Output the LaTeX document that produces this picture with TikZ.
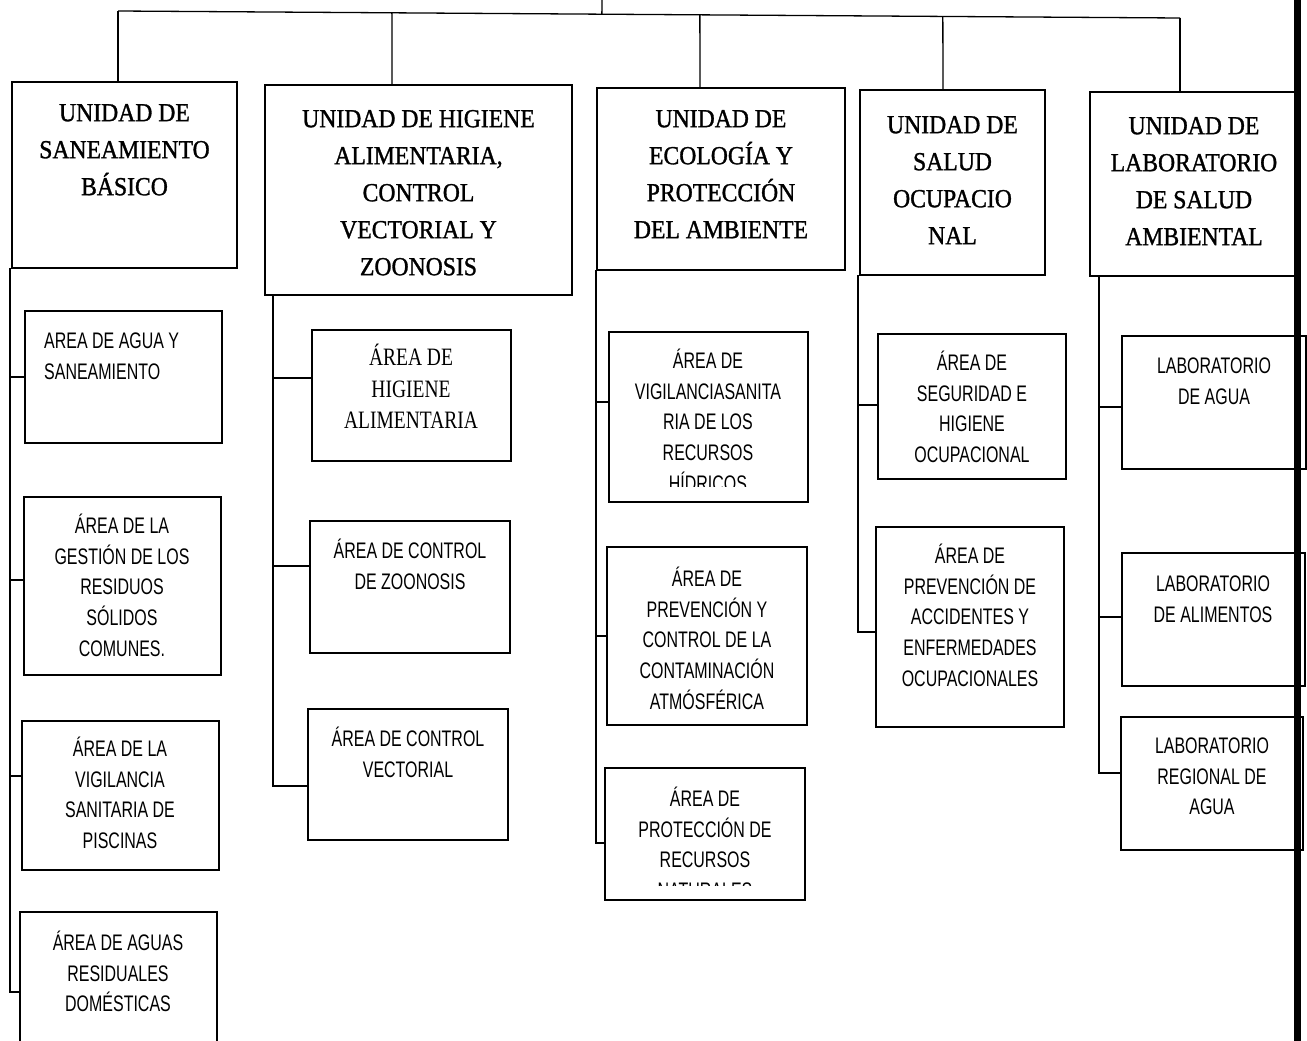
\documentclass[tikz,border=0pt]{standalone}
\usepackage{fontspec}
\setmainfont{Liberation Serif}
\newfontfamily\headfont[FakeBold=1.2,FakeStretch=0.91]{Liberation Serif}
\newfontfamily\subsans[FakeStretch=0.71]{Liberation Sans}
\newfontfamily\subserif[FakeStretch=0.78]{Liberation Serif}
\usetikzlibrary{calc}
\newcommand\bx[5]{\node[boxst, minimum width={#4-#2}, minimum height={#5-#3}] (#1) at (#2,#3) {};}
\newcommand\htext[4]{\node[headtxt] (#1) at (#2,#3-17.5) {\rule{0pt}{26.5pt}#4};}
\newcommand\stext[4]{\node[subtxt] (#1) at (#2,#3-13.9) {\rule{0pt}{22pt}#4};}
\begin{document}
\begin{tikzpicture}[x=1pt,y=-1pt,
  boxst/.style={draw, line width=1.6pt, inner sep=0pt, outer sep=0pt, anchor=north west},
  wire/.style={line width=1.3pt},
  headtxt/.style={align=center, inner sep=0pt, anchor=north, font=\headfont\fontsize{26}{37}\selectfont},
  subtxt/.style={align=center, inner sep=0pt, anchor=north, font=\subsans\fontsize{22.5}{30.7}\selectfont}]
\useasboundingbox (0,0) rectangle (1307,1041);
\fill[white] (0,0) rectangle (1307,1041);
\clip (0,0) rectangle (1307,1041);

% head boxes
\bx{h1}{12}{82}{237}{268}
\bx{h2}{265}{85}{572}{295}
\bx{h3}{597}{88}{845}{270}
\bx{h4}{860}{90}{1045}{275}
\bx{h5}{1090}{92}{1300}{276}
\htext{h1t}{124.5}{112}{UNIDAD DE\\SANEAMIENTO\\BÁSICO}
\htext{h2t}{418.5}{118}{UNIDAD DE HIGIENE\\ALIMENTARIA,\\CONTROL\\VECTORIAL Y\\ZOONOSIS}
\htext{h3t}{721}{118}{UNIDAD DE\\ECOLOGÍA Y\\PROTECCIÓN\\DEL AMBIENTE}
\htext{h4t}{952.5}{124}{UNIDAD DE\\SALUD\\OCUPACIO\\NAL}
\htext{h5t}{1194}{125}{UNIDAD DE\\LABORATORIO\\DE SALUD\\AMBIENTAL}

% sub boxes
\bx{s11}{25}{311}{222}{443}
\bx{s12}{24}{497}{221}{675}
\bx{s13}{22}{721}{219}{870}
\bx{s14}{20}{912}{217}{1080}
\bx{s21}{312}{330}{511}{461}
\bx{s22}{310}{521}{510}{653}
\bx{s23}{308}{709}{508}{840}
\bx{s31}{609}{332}{808}{502}
\bx{s32}{607}{547}{807}{725}
\bx{s33}{605}{768}{805}{900}
\bx{s41}{878}{334}{1066}{479}
\bx{s42}{876}{527}{1064}{727}
\bx{s51}{1122}{336}{1306}{469}
\bx{s52}{1122}{553}{1305}{686}
\bx{s53}{1121}{717}{1303}{850}

\node[subtxt, align=left, anchor=north west] (s11t) at (44,340-13.9) {\rule{0pt}{22pt}AREA DE AGUA Y\\SANEAMIENTO};
\stext{s12t}{122}{525}{ÁREA DE LA\\GESTIÓN DE LOS\\RESIDUOS\\SÓLIDOS\\COMUNES.}
\stext{s13t}{120}{748}{ÁREA DE LA\\VIGILANCIA\\SANITARIA DE\\PISCINAS}
\stext{s14t}{118}{942}{ÁREA DE AGUAS\\RESIDUALES\\DOMÉSTICAS}
\node[subtxt, font=\subserif\fontsize{25}{31.5}\selectfont] (s21t) at (411,357-17.7) {\rule{0pt}{26pt}ÁREA DE\\HIGIENE\\ALIMENTARIA};
\stext{s22t}{410}{550}{ÁREA DE CONTROL\\DE ZOONOSIS}
\stext{s23t}{408}{738}{ÁREA DE CONTROL\\VECTORIAL}
\begin{scope}
  \clip (609,332) rectangle (808,486);
  \stext{s31t}{708}{360}{ÁREA DE\\VIGILANCIASANITA\\RIA DE LOS\\RECURSOS\\HÍDRICOS}
\end{scope}
\stext{s32t}{707}{578}{ÁREA DE\\PREVENCIÓN Y\\CONTROL DE LA\\CONTAMINACIÓN\\ATMÓSFÉRICA}
\begin{scope}
  \clip (605,768) rectangle (805,885);
  \stext{s33t}{705}{798}{ÁREA DE\\PROTECCIÓN DE\\RECURSOS\\NATURALES}
\end{scope}
\stext{s41t}{972}{362}{ÁREA DE\\SEGURIDAD E\\HIGIENE\\OCUPACIONAL}
\stext{s42t}{970}{555}{ÁREA DE\\PREVENCIÓN DE\\ACCIDENTES Y\\ENFERMEDADES\\OCUPACIONALES}
\stext{s51t}{1214}{365}{LABORATORIO\\DE AGUA}
\stext{s52t}{1213}{583}{LABORATORIO\\DE ALIMENTOS}
\stext{s53t}{1212}{745}{LABORATORIO\\REGIONAL DE\\AGUA}

% top connectors
\coordinate (root) at (602,0);
\coordinate (bL) at (118,11);
\coordinate (bR) at (1180,18);
\draw[wire] (root) -- ($(bL)!(root)!(bR)$);
\draw[wire] (bL) -- (bR);
\draw[wire] (bL) -- (h1.north -| 118,0);
\draw[wire] ($(bL)!(392,0)!(bR)$) -- (h2.north -| 392,0);
\draw[wire] ($(bL)!(700,0)!(bR)$) -- (h3.north -| 700,0);
\draw[wire] ($(bL)!(943,0)!(bR)$) -- (h4.north -| 943,0);
\draw[wire] (bR) -- (h5.north -| 1180,0);

% column 1
\draw[wire] (h1.south -| 10,0) -- (10,992) -- (s14.west |- 0,992);
\draw[wire] (10,377) -- (s11.west |- 0,377);
\draw[wire] (10,580) -- (s12.west |- 0,580);
\draw[wire] (10,776) -- (s13.west |- 0,776);
% column 2
\draw[wire] (h2.south -| 273,0) -- (273,786) -- (s23.west |- 0,786);
\draw[wire] (273,378) -- (s21.west |- 0,378);
\draw[wire] (273,566) -- (s22.west |- 0,566);
% column 3
\draw[wire] (h3.south -| 596,0) -- (596,843) -- (s33.west |- 0,843);
\draw[wire] (596,402) -- (s31.west |- 0,402);
\draw[wire] (596,636) -- (s32.west |- 0,636);
% column 4
\draw[wire] (h4.south -| 858,0) -- (858,632) -- (s42.west |- 0,632);
\draw[wire] (858,405) -- (s41.west |- 0,405);
% column 5
\draw[wire] (h5.south -| 1099,0) -- (1099,773) -- (s53.west |- 0,773);
\draw[wire] (1099,407) -- (s51.west |- 0,407);
\draw[wire] (1099,617) -- (s52.west |- 0,617);

% thick right bar
\fill[black] (1294,0) rectangle (1301,1041);
\end{tikzpicture}
\end{document}
